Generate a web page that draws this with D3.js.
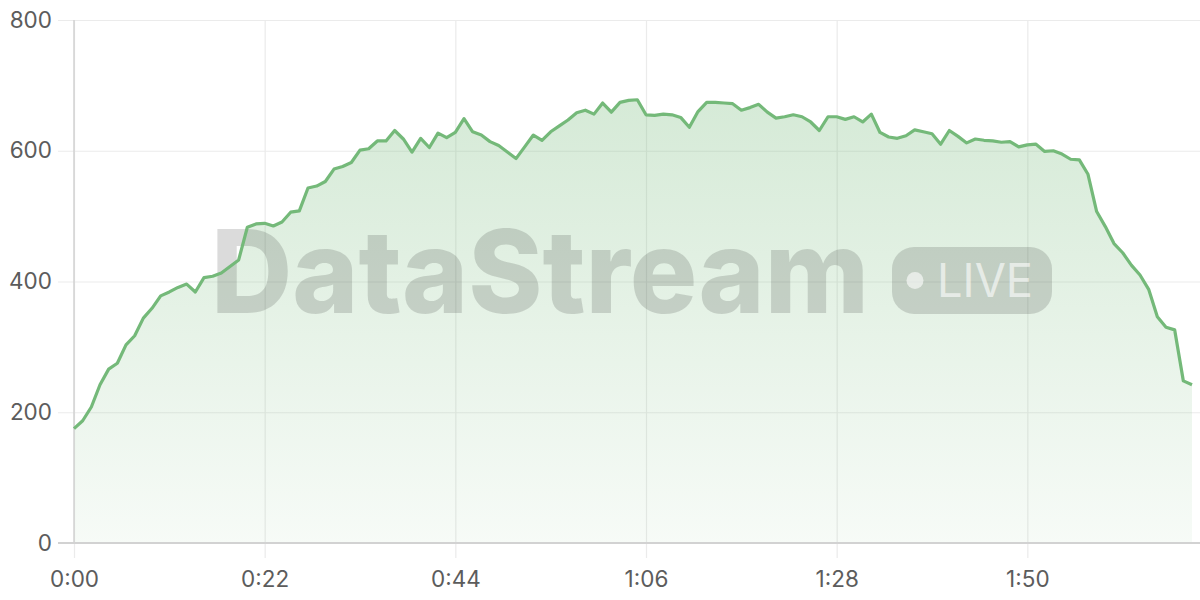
<!DOCTYPE html>
<html><head><meta charset="utf-8">
<script src="https://cdn.jsdelivr.net/npm/d3@7"></script>
<style>html,body{margin:0;padding:0;background:#fff;} svg{display:block}</style>
</head><body>
<svg id="chart" width="1200" height="600"></svg>
<script>
// ---- data ----
const values = [175,187,208,242,266,275,303,317,344,359,
  378,384,391,396,384,406,408,413,423,433,
  483,488,489,485,491,506,508,543,546,553,
  572,576,582,601,603,615,615,631,618,598,
  619,605,627,620,628,649,629,624,614,608,
  598,588,606,624,616,629,638,647,658,662,
  656,673,659,674,677,678,655,654,656,655,
  651,636,660,674,674,673,672,662,666,671,
  659,650,652,655,652,644,631,652,652,648,
  652,644,656,628,621,619,623,632,629,626,
  610,631,622,612,618,616,615,613,614,606,
  609,610,599,600,595,587,586,564,507,484,
  458,444,425,410,388,346,330,326,248,242];
const xTickValues = [0,22,44,66,88,110];
const yTickValues = [0,200,400,600,800];
const yDomain = [0,800];
const watermarkTitle = "DataStream";
const watermarkBadge = "LIVE";

// ---- layout ----
const W = 1200, H = 600;
const m = {top:20, right:8, bottom:57, left:74};
const svg = d3.select('#chart');
const x = d3.scaleLinear().domain([0, values.length - 1]).range([m.left, W - m.right]);
const y = d3.scaleLinear().domain(yDomain).range([H - m.bottom, m.top]);
const fmt = s => Math.floor(s / 60) + ':' + String(s % 60).padStart(2, '0');
const FONT = 'Inter, "Liberation Sans", Arial, sans-serif';

const defs = svg.append('defs');
const grad = defs.append('linearGradient').attr('id','areaGrad')
  .attr('gradientUnits','userSpaceOnUse')
  .attr('x1',0).attr('x2',0).attr('y1',y(680)).attr('y2',y(0));
grad.append('stop').attr('offset','0%').attr('stop-color','#74b979').attr('stop-opacity',0.30);
grad.append('stop').attr('offset','100%').attr('stop-color','#74b979').attr('stop-opacity',0.06);

// horizontal grid
const hg = svg.append('g').attr('transform',`translate(58,0)`)
  .call(d3.axisRight(y).tickValues(yTickValues).tickSize(W - 58).tickFormat(''));
hg.select('.domain').remove();
hg.selectAll('line').attr('stroke','#ebebeb').attr('stroke-width',1.2);

// vertical grid
const vg = svg.append('g').attr('transform',`translate(0,${m.top})`)
  .call(d3.axisBottom(x).tickValues(xTickValues).tickSize(558 - m.top).tickFormat(''));
vg.select('.domain').remove();
vg.selectAll('line').attr('stroke','#ebebeb').attr('stroke-width',1.2);

// area
const data = values.map((v,i)=>({t:i, v}));
svg.append('path').datum(data)
  .attr('fill','url(#areaGrad)')
  .attr('d', d3.area().x(d=>x(d.t)).y0(y(0)).y1(d=>y(d.v)));

// watermark
const wm = svg.append('g').attr('class','watermark');
wm.append('text').text(watermarkTitle)
  .attr('x',211).attr('y',313)
  .attr('font-family',FONT).attr('font-weight',800).attr('font-size',115)
  .attr('textLength',658).attr('lengthAdjust','spacingAndGlyphs')
  .attr('fill','rgba(0,0,0,0.14)');
wm.append('rect').attr('x',892).attr('y',247).attr('width',160).attr('height',67).attr('rx',22)
  .attr('fill','rgba(0,0,0,0.14)');
wm.append('circle').attr('cx',915).attr('cy',280.5).attr('r',8.5).attr('fill','rgba(255,255,255,0.6)');
wm.append('text').text(watermarkBadge)
  .attr('x',937).attr('y',297)
  .attr('font-family',FONT).attr('font-weight',400).attr('font-size',46)
  .attr('textLength',96).attr('lengthAdjust','spacingAndGlyphs')
  .attr('fill','rgba(255,255,255,0.6)');

// axis lines
svg.append('line').attr('x1',m.left).attr('x2',m.left).attr('y1',m.top).attr('y2',H - m.bottom)
  .attr('stroke','#d2d2d2').attr('stroke-width',1.5);
svg.append('line').attr('x1',58).attr('x2',W).attr('y1',y(0)).attr('y2',y(0))
  .attr('stroke','#d2d2d2').attr('stroke-width',2);

// line
svg.append('path').datum(data)
  .attr('fill','none').attr('stroke','#74b979').attr('stroke-width',3.2)
  .attr('stroke-linejoin','round')
  .attr('d', d3.line().x(d=>x(d.t)).y(d=>y(d.v)));

// axis labels
const yl = svg.append('g').attr('transform',`translate(${m.left},0)`)
  .call(d3.axisLeft(y).tickValues(yTickValues).tickSize(0).tickPadding(22));
yl.select('.domain').remove();
yl.selectAll('text').attr('font-family',FONT).attr('font-size',22.5).attr('fill','#5c5c5c');

const xl = svg.append('g').attr('transform',`translate(0,${y(0)})`)
  .call(d3.axisBottom(x).tickValues(xTickValues).tickSize(0).tickPadding(28).tickFormat(fmt));
xl.select('.domain').remove();
xl.selectAll('text').attr('font-family',FONT).attr('font-size',22.5).attr('fill','#5c5c5c');
</script>
</body></html>
